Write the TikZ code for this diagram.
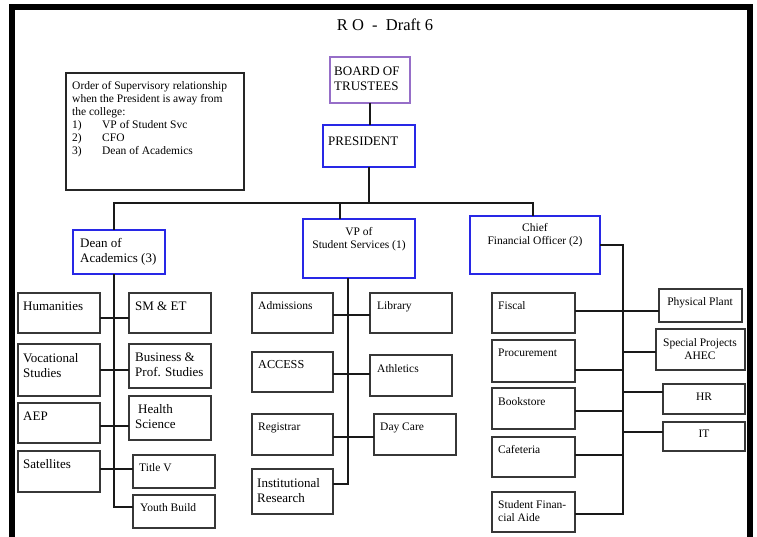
\documentclass[tikz,border=0pt]{standalone}
\usepackage{fontspec}
\setmainfont{Liberation Serif}
\definecolor{purp}{RGB}{150,110,200}
\definecolor{blu}{RGB}{40,40,230}
\definecolor{gr}{RGB}{55,55,55}
\newcommand{\bigf}{\fontsize{13}{15}\selectfont}
\newcommand{\smf}{\fontsize{11.5}{13}\selectfont}
\newcommand{\midf}{\fontsize{12.2}{14}\selectfont}
\tikzset{
  bx/.style={draw=gr, line width=1.5pt, inner sep=0pt, outer sep=0pt, anchor=north west},
  lead/.style={bx, draw=blu, line width=1.4pt},
  topb/.style={bx, draw=purp, line width=1.5pt},
  noteb/.style={bx, draw=black!85, line width=2.2pt},
  tl/.style={anchor=north west, inner sep=0pt, align=left, font=\bigf},
  tls/.style={tl, font=\smf},
  tc/.style={anchor=north, inner sep=0pt, align=center, font=\smf},
  wire/.style={draw=black!90, line width=1.5pt},
}
\newcommand{\mkbox}[6]{\node[#1, minimum width={#5pt-#3pt}, minimum height={#6pt-#4pt}] (#2) at (#3,#4) {};}
\begin{document}
\begin{tikzpicture}[x=1pt,y=-1pt]
\useasboundingbox (0,0) rectangle (757,537);
% frame
\fill[black] (9,4) rectangle (753,10);
\fill[black] (9,4) rectangle (15,537);
\fill[black] (747,4) rectangle (753,537);
% title
\node[anchor=north, inner sep=0pt, font=\fontsize{16.5}{18}\selectfont] (title) at (385,19) {R O\ \ -\ \ Draft 6};
% top
\mkbox{topb}{board}{330}{57}{410}{103}
\mkbox{lead}{pres}{323}{125}{415}{167}
\mkbox{noteb}{note}{66}{73}{244}{190}
\mkbox{lead}{dean}{73}{230}{165}{274}
\mkbox{lead}{vp}{303}{219}{415}{278}
\mkbox{lead}{cfo}{470}{216}{600}{274}
% left column
\mkbox{bx}{hum}{18}{293}{100}{333}
\mkbox{bx}{sm}{129}{293}{211}{333}
\mkbox{bx}{voc}{18}{344}{100}{396}
\mkbox{bx}{bps}{129}{344}{211}{388}
\mkbox{bx}{aep}{18}{403}{100}{443}
\mkbox{bx}{hs}{129}{396}{211}{440}
\mkbox{bx}{sat}{18}{451}{100}{492}
\mkbox{bx}{tfive}{133}{455}{215}{488}
\mkbox{bx}{yb}{133}{495}{215}{528}
% middle column
\mkbox{bx}{adm}{252}{293}{333}{333}
\mkbox{bx}{lib}{370}{293}{452}{333}
\mkbox{bx}{acc}{252}{352}{333}{392}
\mkbox{bx}{ath}{370}{355}{452}{396}
\mkbox{bx}{reg}{252}{414}{333}{455}
\mkbox{bx}{day}{374}{414}{456}{455}
\mkbox{bx}{ir}{252}{469}{333}{514}
% right column
\mkbox{bx}{fis}{492}{293}{575}{333}
\mkbox{bx}{pp}{659}{289}{742}{322}
\mkbox{bx}{pro}{492}{340}{575}{382}
\mkbox{bx}{sp}{656}{329}{745}{370}
\mkbox{bx}{hr}{663}{384}{745}{414}
\mkbox{bx}{bk}{492}{388}{575}{429}
\mkbox{bx}{it}{663}{422}{745}{451}
\mkbox{bx}{caf}{492}{437}{575}{477}
\mkbox{bx}{sfa}{492}{492}{575}{532}
% texts
\node[tl] (board-t) at (334,67) {BOARD OF\\TRUSTEES};
\node[tl] (pres-t) at (328,137) {PRESIDENT};
\node[tls] (note-t) at (72,81) {Order of Supervisory relationship\\when the President is away from\\the college:\\\makebox[30pt][l]{1)}VP of Student Svc\\\makebox[30pt][l]{2)}CFO\\\makebox[30pt][l]{3)}Dean of Academics};
\node[tl] (dean-t) at (80,238) {Dean of\\Academics (3)};
\node[tc] (vp-t) at (359,227) {VP of\\Student Services (1)};
\node[tc] (cfo-t) at (535,223) {Chief\\Financial Officer (2)};
\node[tl] (hum-t) at (23,302) {Humanities};
\node[tl] (sm-t) at (135,302) {SM \& ET};
\node[tl] (voc-t) at (23,353) {Vocational\\Studies};
\node[tl] (bps-t) at (135,353) {Business \&\\Prof. Studies};
\node[tl] (aep-t) at (23,412) {AEP};
\node[tl] (hs-t) at (135,404) {\kern3pt Health\\Science};
\node[tl] (sat-t) at (23,459) {Satellites};
\node[tls] (tfive-t) at (139,463) {Title V};
\node[tls] (yb-t) at (140,503) {Youth Build};
\node[tls] (adm-t) at (258,301) {Admissions};
\node[tls] (lib-t) at (377,301) {Library};
\node[tl, font=\midf] (acc-t) at (258,360) {ACCESS};
\node[tls] (ath-t) at (377,364) {Athletics};
\node[tls] (reg-t) at (258,423) {Registrar};
\node[tls] (day-t) at (380,423) {Day Care};
\node[tl] (ir-t) at (257,478) {Institutional\\Research};
\node[tls] (fis-t) at (498,301) {Fiscal};
\node[tc] (pp-t) at (700,297) {Physical Plant};
\node[tls] (pro-t) at (498,349) {Procurement};
\node[tc] (sp-t) at (700,338) {Special Projects\\AHEC};
\node[tc] (hr-t) at (704,393) {HR};
\node[tls] (bk-t) at (498,397) {Bookstore};
\node[tc] (it-t) at (704,430) {IT};
\node[tls] (caf-t) at (498,445) {Cafeteria};
\node[tls] (sfa-t) at (498,500) {Student Finan-\\cial Aide};
% connectors: top
\coordinate (busL) at (114,203);
\coordinate (busR) at (533,203);
\coordinate (vpdrop) at (340,203);
\draw[wire] (board.south) -- (board.south |- pres.north);
\draw[wire] (pres.south) -- (pres.south |- busL);
\draw[wire] (busL |- dean.north) -- (busL) -- (busR) -- (busR |- cfo.north);
\draw[wire] (vpdrop) -- (vpdrop |- vp.north);
% left spine
\coordinate (dsp) at (114,507);
\draw[wire] (dsp |- dean.south) -- (dsp) -- (yb.west |- dsp);
\draw[wire] (hum.east |- 0,318) -- (sm.west |- 0,318);
\draw[wire] (voc.east |- 0,370) -- (bps.west |- 0,370);
\draw[wire] (aep.east |- 0,426) -- (hs.west |- 0,426);
\draw[wire] (sat.east |- 0,469) -- (tfive.west |- 0,469);
% middle spine
\coordinate (vsp) at (348,484);
\draw[wire] (vsp |- vp.south) -- (vsp) -- (ir.east |- vsp);
\draw[wire] (adm.east |- 0,315) -- (lib.west |- 0,315);
\draw[wire] (acc.east |- 0,374) -- (ath.west |- 0,374);
\draw[wire] (reg.east |- 0,437) -- (day.west |- 0,437);
% right spine
\coordinate (csp) at (623,514);
\draw[wire] (cfo.east) -- (csp |- cfo.east) -- (csp) -- (sfa.east |- csp);
\draw[wire] (fis.east |- 0,311) -- (pp.west |- 0,311);
\draw[wire] (csp |- 0,352) -- (sp.west |- 0,352);
\draw[wire] (pro.east |- 0,370) -- (csp |- 0,370);
\draw[wire] (csp |- 0,392) -- (hr.west |- 0,392);
\draw[wire] (bk.east |- 0,411) -- (csp |- 0,411);
\draw[wire] (csp |- 0,432) -- (it.west |- 0,432);
\draw[wire] (caf.east |- 0,455) -- (csp |- 0,455);
\end{tikzpicture}
\end{document}
